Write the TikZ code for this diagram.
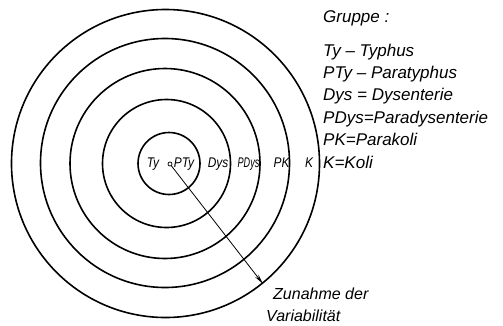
\documentclass[tikz,border=0pt]{standalone}
\usepackage{fontspec}
\setmainfont{Liberation Sans}
\usetikzlibrary{arrows.meta}
\begin{document}
\begin{tikzpicture}[x=1pt,y=-1pt,
  ring/.style={draw,circle,line width=1.6pt,inner sep=0pt},
  lab/.style={font=\fontsize{14}{14}\selectfont\itshape, inner sep=0pt, anchor=base},
  leg/.style={font=\fontsize{17}{17}\selectfont\itshape, inner sep=0pt, anchor=base west},
  arr/.style={line width=0.8pt,-{Stealth[length=10pt,width=4pt]}}]
\useasboundingbox (0,0) rectangle (503,325);
\node[ring,minimum size=62pt] (c1) at (169,163.5) {};
\node[ring,minimum size=128pt] (c2) at (166.5,163.5) {};
\node[ring,minimum size=190pt] (c3) at (165,163.5) {};
\node[ring,minimum size=249pt] (c4) at (165,163) {};
\node[ring,minimum size=308pt] (c5) at (165.5,163.5) {};
\node[draw,circle,line width=0.7pt,inner sep=0pt,minimum size=4pt,fill=white] (dot) at (170,164) {};
\draw[arr] (dot) -- (c5.-51);
\node[lab,xscale=0.85,transform shape] (ty) at (153,167.5) {Ty};
\node[lab,xscale=0.85,transform shape] (pty) at (184,167.5) {PTy};
\node[lab,xscale=0.85,transform shape] (dys) at (218,167.5) {Dys};
\node[lab,xscale=0.65,transform shape] (pdys) at (248.5,167.5) {PDys};
\node[lab,xscale=0.85,transform shape] (pk) at (281.5,167.5) {PK};
\node[lab,xscale=0.85,transform shape] (k) at (309,167.5) {K};
\node[leg] (gr) at (323,22) {Gruppe :};
\node[leg] (l1) at (323,56) {Ty -- Typhus};
\node[leg] (l2) at (323,78.4) {PTy -- Paratyphus};
\node[leg] (l3) at (323,100.8) {Dys = Dysenterie};
\node[leg] (l4) at (323,123.2) {PDys=Paradysenterie};
\node[leg] (l5) at (323,145.6) {PK=Parakoli};
\node[leg] (l6) at (323,168) {K=Koli};
\node[leg,font=\fontsize{16}{16}\selectfont\itshape] (z1) at (273,299) {Zunahme der};
\node[leg,font=\fontsize{16}{16}\selectfont\itshape] (z2) at (266,321) {Variabilität};
\end{tikzpicture}
\end{document}
